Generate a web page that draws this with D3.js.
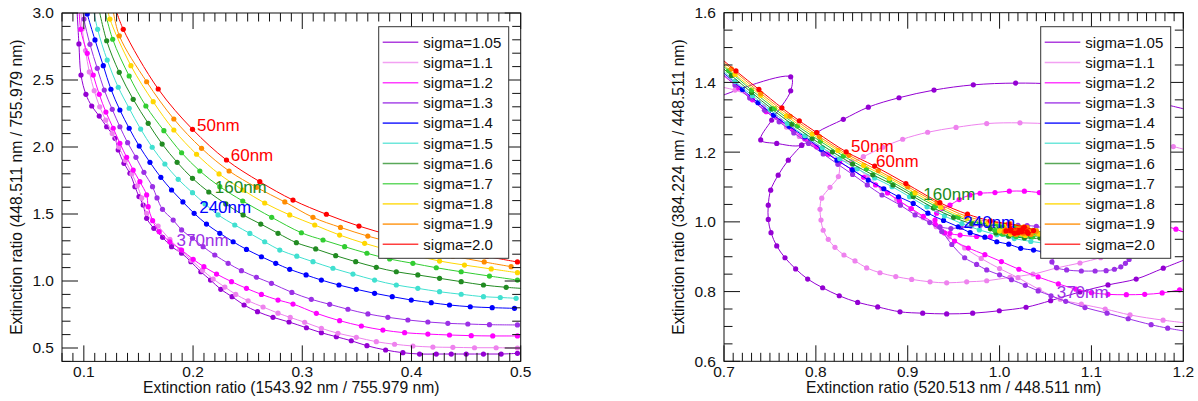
<!doctype html>
<html lang="en">
<head>
<meta charset="UTF-8">
<script src="https://d3js.org/d3.v7.min.js"></script>
<title>Extinction ratio</title>
<style>
  body { margin: 0; background: #fff; }
  text { font-family: "Liberation Sans", Arial, Helvetica, sans-serif; }
</style>
</head>
<body>
<svg id="chart" width="1198" height="401"></svg>
<script>
// series names + colours (same order in both panels)
const sigmaNames = ["sigma=1.05", "sigma=1.1", "sigma=1.2", "sigma=1.3", "sigma=1.4", "sigma=1.5",
                    "sigma=1.6", "sigma=1.7", "sigma=1.8", "sigma=1.9", "sigma=2.0"];
const sigmaColors = ["#9400D3", "#EE82EE", "#FF00FF", "#9B30E6", "#0000FF", "#40E0D0",
                     "#228B22", "#32CD32", "#FFD700", "#FF8C00", "#FF0000"];

// ---- left panel: x = 1543.92/755.979, y = 448.511/755.979 ----
const left105 = [[0.0935,3.06],[0.0955,2.769],[0.0974,2.537],[0.1019,2.393],[0.1072,2.306],[0.1141,2.231],[0.1209,2.151],
  [0.1285,2.065],[0.1315,1.978],[0.1367,1.878],[0.1422,1.804],[0.1468,1.704],[0.1505,1.63],[0.1543,1.567],[0.1575,1.468],
  [0.1641,1.393],[0.1721,1.326],[0.1803,1.256],[0.1895,1.207],[0.198,1.144],[0.2071,1.069],[0.216,1.007],[0.2254,0.938],
  [0.2357,0.883],[0.2467,0.821],[0.259,0.771],[0.2732,0.729],[0.2879,0.694],[0.3038,0.651],[0.3175,0.614],[0.3312,0.584],
  [0.3449,0.554],[0.3592,0.517],[0.3763,0.485],[0.3921,0.465],[0.4074,0.455],[0.4227,0.455],[0.4364,0.455],[0.4501,0.455],
  [0.4659,0.455],[0.4821,0.455],[0.497,0.46]];
const left110 = [[0.097,3.06],[0.0985,2.88],[0.1015,2.72],[0.105,2.56],[0.1095,2.42],[0.1145,2.3],[0.12,2.2],[0.126,2.1],
  [0.132,2.0],[0.138,1.9],[0.144,1.8],[0.149,1.71],[0.153,1.62],[0.1575,1.505],[0.168,1.41],[0.1788,1.31],[0.1879,1.235],
  [0.1986,1.155],[0.2087,1.08],[0.2184,1.015],[0.2291,0.955],[0.2391,0.9],[0.2504,0.852],[0.2641,0.806],[0.2778,0.76],
  [0.289,0.728],[0.3022,0.692],[0.3175,0.647],[0.3327,0.61],[0.3495,0.58],[0.3678,0.547],[0.3845,0.528],[0.4013,0.515],
  [0.4196,0.507],[0.4379,0.505],[0.4577,0.502],[0.4775,0.502],[0.497,0.5]];
const left120 = [[0.0955,3.06],[0.0971,2.878],[0.1031,2.699],[0.1086,2.537],[0.1141,2.393],[0.1202,2.261],[0.1269,2.14],
  [0.133,2.028],[0.1392,1.923],[0.1452,1.828],[0.1513,1.741],[0.1575,1.642],[0.1589,1.555],[0.163,1.45],[0.169,1.368],
  [0.1788,1.293],[0.1895,1.231],[0.2001,1.162],[0.2099,1.107],[0.2215,1.052],[0.2352,0.995],[0.2489,0.945],[0.2626,0.9],
  [0.2778,0.858],[0.2915,0.828],[0.3129,0.759],[0.3342,0.704],[0.3541,0.664],[0.3738,0.634],[0.3937,0.614],[0.415,0.604],
  [0.4348,0.597],[0.4547,0.592],[0.4744,0.59],[0.497,0.59]];
const left130 = [[0.0985,3.06],[0.1001,2.955],[0.1056,2.766],[0.1123,2.587],[0.1187,2.425],[0.126,2.281],[0.133,2.151],
  [0.1401,2.032],[0.1477,1.923],[0.155,1.811],[0.1629,1.704],[0.167,1.62],[0.172,1.535],[0.1818,1.455],[0.1895,1.381],
  [0.1995,1.319],[0.2092,1.256],[0.2199,1.194],[0.2321,1.132],[0.2443,1.077],[0.258,1.028],[0.2718,0.983],[0.2905,0.915],
  [0.3083,0.863],[0.3251,0.826],[0.3418,0.789],[0.3601,0.754],[0.3784,0.729],[0.3967,0.709],[0.415,0.694],[0.4333,0.684],
  [0.4516,0.679],[0.4714,0.674],[0.497,0.672]];
const left140 = [[0.101,3.06],[0.1031,2.993],[0.1102,2.799],[0.1178,2.607],[0.1248,2.431],[0.133,2.276],[0.1415,2.14],
  [0.1507,2.007],[0.1605,1.886],[0.1705,1.774],[0.1803,1.679],[0.1907,1.59],[0.201,1.505],[0.2123,1.425],[0.2245,1.356],
  [0.2367,1.293],[0.2489,1.236],[0.2626,1.181],[0.2757,1.132],[0.2885,1.087],[0.3035,1.045],[0.3175,1.007],[0.3336,0.97],
  [0.3495,0.938],[0.3662,0.908],[0.3824,0.883],[0.3998,0.858],[0.4181,0.838],[0.4348,0.821],[0.4538,0.808],[0.4739,0.801],
  [0.4943,0.796]];
const left150 = [[0.108,3.06],[0.1126,2.878],[0.1214,2.649],[0.1315,2.446],[0.1415,2.289],[0.152,2.134],[0.1626,1.998],
  [0.1742,1.873],[0.1864,1.759],[0.1995,1.659],[0.211,1.575],[0.2229,1.493],[0.2382,1.418],[0.252,1.355],[0.2656,1.293],
  [0.2794,1.231],[0.295,1.185],[0.3098,1.144],[0.3281,1.095],[0.3464,1.052],[0.3662,1.007],[0.3861,0.97],[0.4058,0.945],
  [0.4257,0.92],[0.4455,0.901],[0.4659,0.883],[0.4813,0.877],[0.4958,0.871]];
const left160 = [[0.113,3.06],[0.1209,2.793],[0.1324,2.557],[0.1452,2.356],[0.1589,2.177],[0.1717,2.022],[0.1854,1.886],
  [0.1995,1.766],[0.2144,1.664],[0.23,1.575],[0.2458,1.493],[0.262,1.425],[0.2778,1.356],[0.2946,1.286],[0.3123,1.239],
  [0.3306,1.189],[0.3489,1.144],[0.3678,1.102],[0.3861,1.069],[0.4058,1.045],[0.4257,1.02],[0.4455,0.995],[0.4659,0.97],
  [0.4867,0.953],[0.51,0.94]];
const left170 = [[0.118,3.06],[0.1264,2.804],[0.1415,2.53],[0.1568,2.306],[0.1733,2.122],[0.1895,1.957],[0.2062,1.821],
  [0.2245,1.704],[0.2455,1.597],[0.272,1.475],[0.2992,1.36],[0.319,1.306],[0.3388,1.256],[0.3592,1.207],[0.38,1.164],
  [0.4013,1.132],[0.4227,1.099],[0.4455,1.069],[0.4714,1.037],[0.497,1.007]];
const left180 = [[0.121,3.06],[0.1239,2.955],[0.1431,2.607],[0.1635,2.338],[0.1824,2.127],[0.2032,1.946],[0.2238,1.799],
  [0.2458,1.679],[0.2656,1.582],[0.2885,1.493],[0.3114,1.418],[0.3342,1.343],[0.3571,1.281],[0.38,1.23],[0.403,1.19],
  [0.4257,1.149],[0.4485,1.119],[0.473,1.09],[0.497,1.062]];
const left190 = [[0.126,3.06],[0.1325,2.83],[0.1575,2.487],[0.1824,2.209],[0.2078,1.99],[0.233,1.821],[0.258,1.699],
  [0.284,1.59],[0.3098,1.475],[0.335,1.4],[0.36,1.335],[0.386,1.28],[0.412,1.23],[0.438,1.185],[0.4666,1.142],[0.4912,1.107]];
const left200 = [[0.128,3.06],[0.1361,2.878],[0.1681,2.433],[0.1995,2.132],[0.2306,1.903],[0.2611,1.741],[0.2915,1.604],
  [0.3221,1.498],[0.3519,1.41],[0.3815,1.34],[0.411,1.28],[0.44,1.228],[0.469,1.183],[0.497,1.142]];
const leftSeries = [left105, left110, left120, left130, left140, left150, left160, left170, left180, left190, left200];

// ---- right panel: x = 520.513/448.511, y = 384.224/448.511 (some curves come in pieces) ----
const right105 = [
  [[0.69,1.354],[0.7726,1.416],[0.7726,1.376],[0.7519,1.292],[0.740,1.235],[0.7574,1.225],[0.7846,1.22],[0.8009,1.256],
   [0.8299,1.294],[0.8571,1.329],[0.8905,1.356],[0.9286,1.378],[0.9714,1.393],[1.0175,1.398],[1.06,1.395],[1.10,1.382],
   [1.14,1.36],[1.18,1.337],[1.21,1.318]],
  [[0.7846,1.22],[0.770,1.177],[0.759,1.134],[0.7508,1.091],[0.7482,1.048],[0.7482,1.007],[0.7512,0.969],[0.7574,0.931],
   [0.7664,0.897],[0.778,0.865],[0.7911,0.836],[0.8074,0.811],[0.8255,0.788],[0.8455,0.769],[0.8673,0.756],[0.8916,0.742],
   [0.9163,0.738],[0.9424,0.736],[0.9707,0.738],[0.9997,0.745],[1.0288,0.755],[1.0556,0.774],[1.0875,0.799],[1.118,0.819],
   [1.1487,0.836],[1.1782,0.867],[1.21,0.9]]];
const right110 = [
  [[0.69,1.39],[0.712,1.378],[0.728,1.36],[0.743,1.33],[0.756,1.3],[0.768,1.272],[0.782,1.245],[0.797,1.222],[0.812,1.198],
   [0.826,1.178],[0.839,1.172],[0.8517,1.187],[0.873,1.214],[0.8945,1.237],[0.9217,1.257],[0.9526,1.271],[0.986,1.282],
   [1.0222,1.284],[1.06,1.28],[1.10,1.268],[1.14,1.248],[1.1891,1.216],[1.21,1.202]],
  [[0.826,1.178],[0.8245,1.13],[0.8154,1.099],[0.8064,1.068],[0.8045,1.036],[0.8056,1.005],[0.808,0.976],[0.8135,0.95],
   [0.8208,0.927],[0.8306,0.905],[0.8426,0.888],[0.8553,0.868],[0.8698,0.854],[0.887,0.843],[0.9043,0.835],[0.9243,0.828],
   [0.9424,0.825],[0.9642,0.828],[0.986,0.831],[1.0113,0.841],[1.0364,0.85],[1.0625,0.868],[1.0875,0.882],[1.11,0.897],
   [1.13,0.91]],
  [[0.839,1.172],[0.856,1.13],[0.872,1.095],[0.888,1.065],[0.903,1.038],[0.917,1.012],[0.931,0.986],[0.945,0.957],
   [0.962,0.925],[0.98,0.895],[1.0,0.866],[1.02,0.84],[1.043,0.806],[1.066,0.778],[1.089,0.764],[1.115,0.75],[1.142,0.733],
   [1.178,0.718],[1.21,0.708]]];
const right120 = [
  [[0.69,1.44],[0.716,1.384],[0.731,1.35],[0.746,1.316],[0.761,1.29],[0.775,1.264],[0.788,1.238],[0.801,1.215],
   [0.8135,1.194],[0.826,1.172],[0.839,1.15],[0.852,1.128],[0.865,1.106],[0.878,1.083],[0.891,1.06],[0.904,1.038],
   [0.917,1.016],[0.93,0.993],[0.94,0.968],[0.951,0.945],[0.966,0.925],[0.984,0.906],[1.002,0.886],[1.021,0.864],
   [1.042,0.842],[1.064,0.822],[1.083,0.807],[1.1,0.797],[1.118,0.792],[1.138,0.791],[1.158,0.792],[1.177,0.796],
   [1.196,0.805],[1.21,0.812]],
  [[0.99,0.957],[0.975,0.958],[0.957,0.962],[0.946,0.967],[0.935,0.986],[0.9297,1.005],[0.9315,1.025],[0.938,1.038],
   [0.946,1.048],[0.956,1.064],[0.9678,1.077],[0.9787,1.082],[0.995,1.084],[1.0106,1.088],[1.027,1.088],[1.0433,1.084],
   [1.075,1.075],[1.11,1.055],[1.14,1.03],[1.165,1.0],[1.192,0.979],[1.21,0.96]]];
const right130 = [
  [[0.69,1.447],[0.712,1.392],[0.728,1.355],[0.744,1.32],[0.76,1.287],[0.776,1.255],[0.792,1.225],[0.808,1.195],
   [0.824,1.165],[0.84,1.136],[0.856,1.106],[0.872,1.077],[0.892,1.048],[0.908,1.02],[0.924,0.998],[0.937,0.972],
   [0.948,0.935],[0.962,0.897],[0.975,0.878],[0.986,0.862],[1.0,0.848],[1.013,0.834],[1.028,0.818],[1.042,0.802],
   [1.056,0.788],[1.072,0.772],[1.093,0.754],[1.117,0.738],[1.14,0.722],[1.165,0.705],[1.183,0.695],[1.21,0.683]],
  [[0.935,0.985],[0.947,0.981],[0.958,0.984],[0.969,0.988],[0.979,0.99],[0.99,0.991],[1.0,0.991],[1.01,0.991],
   [1.02,0.99],[1.03,0.989],[1.04,0.987],[1.055,0.975],[1.065,0.95],[1.063,0.91],[1.057,0.885],[1.062,0.869],
   [1.073,0.862],[1.089,0.859],[1.104,0.859],[1.116,0.86],[1.125,0.864],[1.132,0.871],[1.137,0.881],[1.141,0.892]]];
const right140 = [
  [[0.69,1.45],[0.72,1.38],[0.737,1.342],[0.754,1.306],[0.771,1.274],[0.788,1.244],[0.806,1.208],[0.823,1.177],
   [0.84,1.149],[0.857,1.12],[0.874,1.095],[0.89,1.072],[0.906,1.053],[0.922,1.025],[0.939,1.004],[0.955,0.986],
   [0.968,0.969],[0.984,0.956],[0.997,0.943],[1.01,0.936],[1.023,0.924],[1.037,0.919],[1.047,0.914],[1.065,0.91],
   [1.08,0.915]]];
const right150 = [
  [[0.69,1.455],[0.712,1.403],[0.731,1.362],[0.75,1.322],[0.769,1.282],[0.788,1.247],[0.807,1.213],[0.826,1.181],
   [0.845,1.152],[0.864,1.126],[0.883,1.101],[0.902,1.072],[0.921,1.043],[0.94,1.017],[0.959,0.995],[0.978,0.977],
   [0.997,0.963],[1.016,0.952],[1.034,0.944],[1.052,0.938],[1.07,0.935]]];
const right160 = [
  [[0.69,1.46],[0.708,1.42],[0.73,1.371],[0.752,1.324],[0.774,1.28],[0.796,1.239],[0.818,1.201],[0.84,1.166],
   [0.862,1.135],[0.884,1.106],[0.906,1.073],[0.928,1.04],[0.95,1.013],[0.97,0.995],[0.988,0.99],[1.005,0.99],
   [1.022,0.984],[1.038,0.974],[1.05,0.963],[1.044,0.954],[1.027,0.954],[1.01,0.959],[0.996,0.968],[0.99,0.98],
   [1.0,0.986],[1.016,0.984],[1.032,0.976],[1.043,0.966],[1.034,0.959],[1.018,0.962]]];
const right170 = [
  [[0.69,1.466],[0.705,1.434],[0.73,1.378],[0.755,1.325],[0.78,1.275],[0.805,1.231],[0.83,1.189],[0.855,1.152],
   [0.88,1.119],[0.905,1.081],[0.93,1.045],[0.955,1.014],[0.978,0.997],[0.998,0.993],[1.018,0.986],[1.036,0.976],
   [1.046,0.965],[1.036,0.957],[1.018,0.958],[1.003,0.965],[0.995,0.976],[1.006,0.983],[1.024,0.978],[1.037,0.969],
   [1.028,0.962],[1.012,0.966]]];
const right180 = [
  [[0.69,1.472],[0.712,1.423],[0.74,1.363],[0.768,1.304],[0.796,1.252],[0.824,1.205],[0.852,1.162],[0.88,1.125],
   [0.908,1.083],[0.936,1.042],[0.964,1.01],[0.988,0.997],[1.008,0.993],[1.026,0.985],[1.04,0.975],[1.043,0.965],
   [1.028,0.961],[1.012,0.965],[1.0,0.974],[1.008,0.981],[1.024,0.978],[1.035,0.97],[1.025,0.965],[1.013,0.97],
   [1.02,0.975]]];
const right190 = [
  [[0.69,1.478],[0.708,1.439],[0.74,1.369],[0.772,1.303],[0.804,1.244],[0.836,1.191],[0.868,1.147],[0.9,1.101],
   [0.932,1.054],[0.964,1.016],[0.99,1.0],[1.012,0.994],[1.03,0.984],[1.04,0.973],[1.034,0.964],[1.018,0.964],
   [1.005,0.971],[1.006,0.979],[1.02,0.98],[1.032,0.973],[1.026,0.967],[1.013,0.971],[1.018,0.976],[1.027,0.972]]];
const right200 = [
  [[0.69,1.484],[0.713,1.433],[0.738,1.38],[0.763,1.327],[0.782,1.29],[0.801,1.256],[0.833,1.201],[0.864,1.16],
   [0.898,1.11],[0.935,1.055],[0.965,1.022],[0.99,1.003],[1.01,0.994],[1.027,0.985],[1.037,0.975],[1.031,0.967],
   [1.016,0.967],[1.007,0.974],[1.012,0.981],[1.025,0.979],[1.03,0.972],[1.02,0.969],[1.012,0.975],[1.022,0.976],
   [1.024,0.972]]];
const rightSeries = [right105, right110, right120, right130, right140, right150, right160, right170, right180, right190, right200];

// radius annotations [text, x, y, colour index]
const leftNotes = [["50nm",0.2037,2.119,10],["60nm",0.2345,1.896,10],["160nm",0.2199,1.657,6],
                   ["240nm",0.2056,1.507,4],["370nm",0.1849,1.261,3]];
const rightNotes = [["50nm",0.8383,1.201,10],["60nm",0.8655,1.158,10],["160nm",0.917,1.063,6],
                    ["240nm",0.9605,0.982,4],["370nm",1.0622,0.7816,3]];

// tick labels
const leftXTicks = [0.1, 0.2, 0.3, 0.4, 0.5];
const leftYTicks = [0.5, 1.0, 1.5, 2.0, 2.5, 3.0];
const rightXTicks = [0.7, 0.8, 0.9, 1.0, 1.1, 1.2];
const rightYTicks = [0.6, 0.8, 1.0, 1.2, 1.4, 1.6];

const svg = d3.select("#chart");

function drawPanel(p) {
    const x = d3.scaleLinear().domain(p.xDomain).range([p.left, p.right]);
    const y = d3.scaleLinear().domain(p.yDomain).range([p.bottom, p.top]);
    const g = svg.append("g");

    g.append("clipPath").attr("id", p.id + "-clip")
        .append("rect")
        .attr("x", p.left).attr("y", p.top)
        .attr("width", p.right - p.left).attr("height", p.bottom - p.top);

    const plot = g.append("g").attr("clip-path", "url(#" + p.id + "-clip)");
    const line = d3.line().x(d => x(d[0])).y(d => y(d[1])).curve(d3.curveCatmullRom.alpha(0.5));

    p.series.forEach((segs, i) => {
        const sg = plot.append("g");
        segs.forEach(seg => {
            sg.append("path").datum(seg)
                .attr("d", line)
                .attr("fill", "none")
                .attr("stroke", sigmaColors[i])
                .attr("stroke-width", 1);
            sg.selectAll(null).data(seg).enter().append("circle")
                .attr("cx", d => x(d[0])).attr("cy", d => y(d[1]))
                .attr("r", 2.6)
                .attr("fill", sigmaColors[i]);
        });
    });

    // radius notes
    plot.selectAll(null).data(p.notes).enter().append("text")
        .attr("x", d => x(d[1])).attr("y", d => y(d[2]))
        .attr("fill", d => sigmaColors[d[3]])
        .attr("font-size", 17)
        .text(d => d[0]);

    // frame + inward ticks on all four sides
    const major = 16, minor = 8.5;
    const xMinor = d3.range(p.xDomain[0], p.xDomain[1] + 1e-9, p.xMinorStep)
        .filter(v => !p.xTicks.some(t => Math.abs(t - v) < 1e-6));
    const yMinor = d3.range(p.yDomain[0], p.yDomain[1] + 1e-9, p.yMinorStep)
        .filter(v => !p.yTicks.some(t => Math.abs(t - v) < 1e-6));
    const ax = g.append("g").attr("stroke", "#111").attr("stroke-width", 1);

    [[p.xTicks, major], [xMinor, minor]].forEach(([vals, len]) => {
        vals.forEach(v => {
            const px = x(v);
            ax.append("line").attr("x1", px).attr("x2", px).attr("y1", p.bottom).attr("y2", p.bottom - len);
            ax.append("line").attr("x1", px).attr("x2", px).attr("y1", p.top).attr("y2", p.top + len);
        });
    });
    [[p.yTicks, major], [yMinor, minor]].forEach(([vals, len]) => {
        vals.forEach(v => {
            const py = y(v);
            ax.append("line").attr("y1", py).attr("y2", py).attr("x1", p.left).attr("x2", p.left + len);
            ax.append("line").attr("y1", py).attr("y2", py).attr("x1", p.right).attr("x2", p.right - len);
        });
    });

    // legend (sits over the curves and the right-hand ticks)
    const lg = g.append("g");
    lg.append("rect")
        .attr("x", p.legend[0]).attr("y", p.legend[1])
        .attr("width", 130).attr("height", 231.6)
        .attr("fill", "#fff").attr("stroke", "#333").attr("stroke-width", 1);
    sigmaNames.forEach((name, i) => {
        const ly = p.legend[1] + 15.6 + i * 20.2;
        lg.append("line")
            .attr("x1", p.legend[0] + 4).attr("x2", p.legend[0] + 39.6)
            .attr("y1", ly).attr("y2", ly)
            .attr("stroke", sigmaColors[i]).attr("stroke-width", 1.6).attr("opacity", 0.75);
        lg.append("text")
            .attr("x", p.legend[0] + 44.6).attr("y", ly + 5.3)
            .attr("font-size", 15).attr("fill", "#111")
            .text(name);
    });

    g.append("rect")
        .attr("x", p.left).attr("y", p.top)
        .attr("width", p.right - p.left).attr("height", p.bottom - p.top)
        .attr("fill", "none").attr("stroke", "#111").attr("stroke-width", 1);

    // tick labels
    g.selectAll(null).data(p.xTicks).enter().append("text")
        .attr("x", d => x(d)).attr("y", p.bottom + 15.5)
        .attr("text-anchor", "middle").attr("font-size", 15.5).attr("fill", "#111")
        .text(d => d.toFixed(1));
    g.selectAll(null).data(p.yTicks).enter().append("text")
        .attr("x", p.left - 8).attr("y", d => y(d))
        .attr("dy", "0.35em")
        .attr("text-anchor", "end").attr("font-size", 15.5).attr("fill", "#111")
        .text(d => d.toFixed(1));

    // axis titles
    g.append("text")
        .attr("x", (p.left + p.right) / 2).attr("y", 393)
        .attr("text-anchor", "middle").attr("font-size", 15.7).attr("fill", "#111")
        .text(p.xTitle);
    g.append("text")
        .attr("transform", "translate(" + p.yTitleX + "," + (p.top + p.bottom) / 2 + ") rotate(-90)")
        .attr("text-anchor", "middle").attr("font-size", 15.7).attr("fill", "#111")
        .text(p.yTitle);
}

drawPanel({
    id: "left", left: 62, right: 520.7, top: 13, bottom: 361.4,
    xDomain: [0.08, 0.5], yDomain: [0.4, 3.0], xMinorStep: 0.01, yMinorStep: 0.1,
    xTicks: leftXTicks, yTicks: leftYTicks,
    series: leftSeries.map(s => [s]), notes: leftNotes,
    legend: [378.7, 26.7], yTitleX: 22,
    xTitle: "Extinction ratio (1543.92 nm / 755.979 nm)",
    yTitle: "Extinction ratio (448.511 nm / 755.979 nm)"
});

drawPanel({
    id: "right", left: 724, right: 1183.3, top: 12.7, bottom: 361.3,
    xDomain: [0.7, 1.2], yDomain: [0.6, 1.6], xMinorStep: 0.01, yMinorStep: 0.05,
    xTicks: rightXTicks, yTicks: rightYTicks,
    series: rightSeries, notes: rightNotes,
    legend: [1040.7, 26.7], yTitleX: 684,
    xTitle: "Extinction ratio (520.513 nm / 448.511 nm)",
    yTitle: "Extinction ratio (384.224 nm / 448.511 nm)"
});
</script>
</body>
</html>
